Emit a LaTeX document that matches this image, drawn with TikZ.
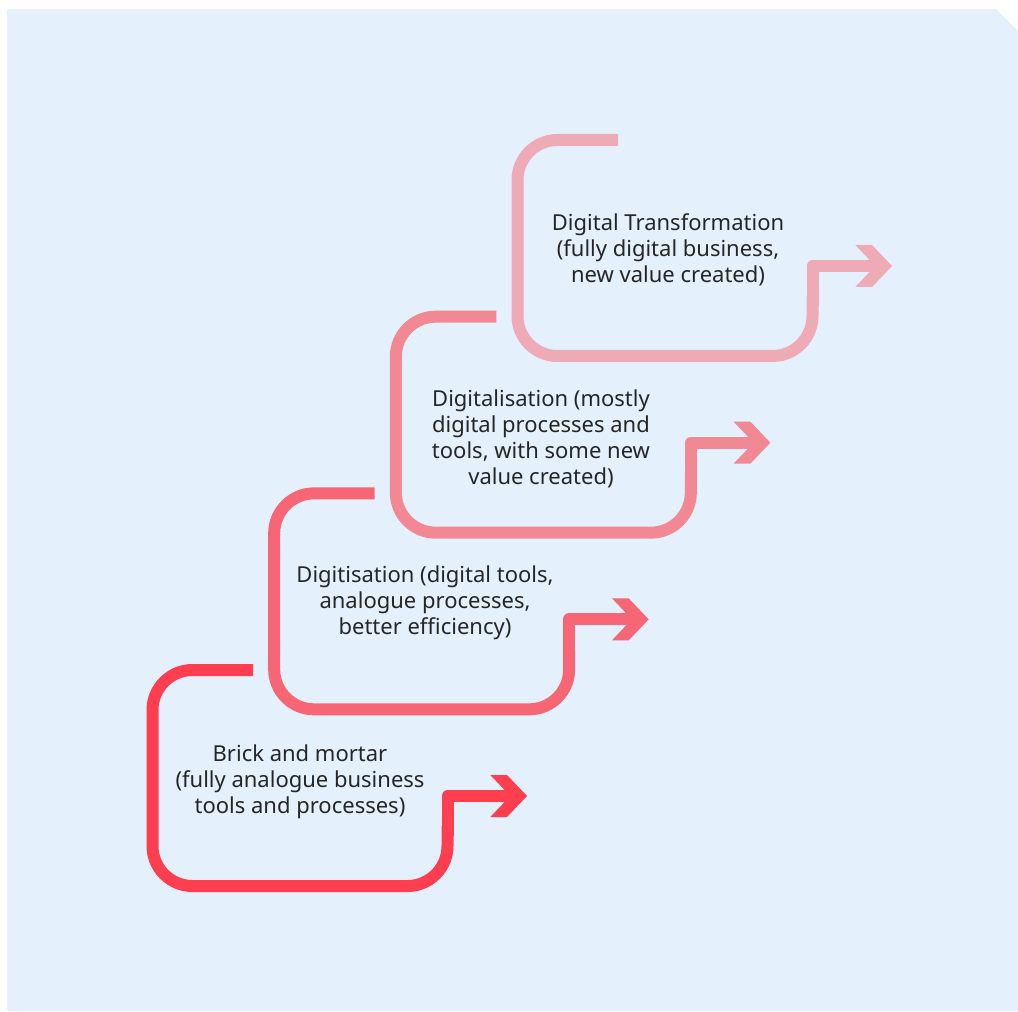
\documentclass[tikz,border=0pt]{standalone}
\usepackage{fontspec}
\setmainfont{Noto Sans}
\begin{document}
\begin{tikzpicture}[x=0.75pt,y=-0.75pt,
  stageline/.style={line width=9pt, line join=round, line cap=butt},
  label/.style={align=center, text=black!85, font=\fontsize{16.5}{19.5}\selectfont, inner sep=0pt}
]
\definecolor{bgblue}{HTML}{E4F0FC}
\definecolor{stageA}{HTML}{FF3E50}
\definecolor{stageB}{HTML}{F66674}
\definecolor{stageC}{HTML}{F28893}
\definecolor{stageD}{HTML}{EEAAB5}

\useasboundingbox (0,0) rectangle (1018,1011);
% page background with a clipped top-right corner
\fill[bgblue] (7,9) -- (996,9) -- (1018,31) -- (1018,1011) -- (7,1011) -- cycle;

% one stepped arrow per stage; each stage is shifted up and to the right
\foreach \col/\k in {stageA/0,stageB/1,stageC/2,stageD/3}{
  \begin{scope}[shift={({121.67*\k},{-176.67*\k})}]
    \coordinate (s\k-start) at (253,670);
    \coordinate (s\k-tl) at (152.5,670);
    \coordinate (s\k-bl) at (152.5,886);
    \coordinate (s\k-br) at (447.5,886);
    \coordinate (s\k-mid) at (447.5,836);
    \coordinate (s\k-mid2) at (447.5,826);
    \coordinate (s\k-step) at (447.5,796);
    \coordinate (s\k-end) at (510.5,796);
    \coordinate (s\k-tip) at (527,796);
    % large rounded bends
    \draw[stageline, \col, rounded corners=30]
      (s\k-start) -- (s\k-tl) -- (s\k-bl) -- (s\k-br) -- (s\k-mid2);
    % sharp step into the arrow shaft
    \draw[stageline, \col] (s\k-mid) -- (s\k-step) -- (s\k-end);
    \fill[\col] (s\k-tip) -- ++(-20,-21) -- ++(-16.7,0) -- ++(20,21)
      -- ++(-20,21) -- ++(16.7,0) -- cycle;
  \end{scope}
}

\node[label] (brick) at (300,781.5) {Brick and mortar\\(fully analogue business\\tools and processes)};
\node[label] (digitisation) at (425,602.5) {Digitisation (digital tools,\\analogue processes,\\better efficiency)};
\node[label] (digitalisation) at (541,439) {Digitalisation (mostly\\digital processes and\\tools, with some new\\value created)};
\node[label] (transformation) at (668,250) {Digital Transformation\\(fully digital business,\\new value created)};
\end{tikzpicture}
\end{document}
